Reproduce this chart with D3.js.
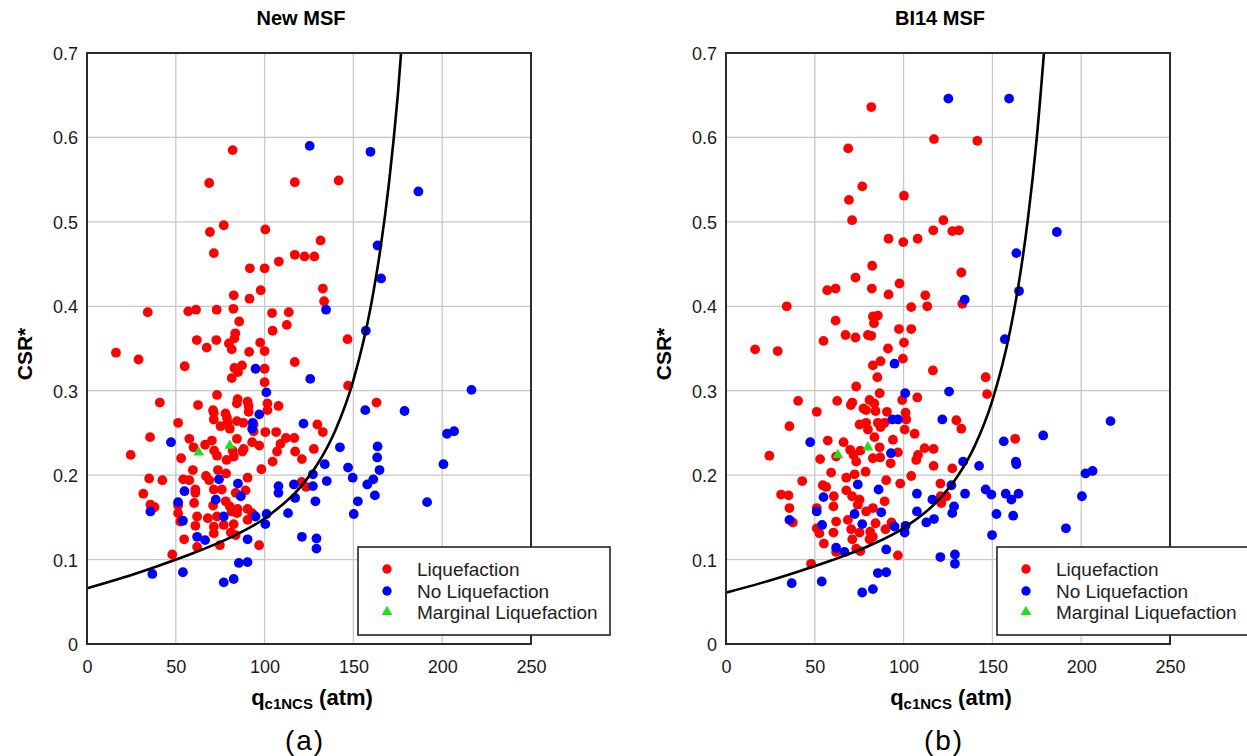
<!DOCTYPE html>
<html>
<head>
<meta charset="utf-8">
<script src="https://cdn.jsdelivr.net/npm/d3@7"></script>
<style>
body { margin: 0; background: #fff; }
svg { display: block; font-family: "Liberation Sans", Arial, sans-serif; }
</style>
</head>
<body>
<div id="chart"></div>
<script>
var xTicks = [0, 50, 100, 150, 200, 250];
var yTicks = [0, 0.1, 0.2, 0.3, 0.4, 0.5, 0.6, 0.7];
var legendLabels = ['Liquefaction', 'No Liquefaction', 'Marginal Liquefaction'];

// curve, [qc1Ncs] -> CSR*
var curveQ = [0, 20, 40, 60, 80, 100, 120, 130, 140, 150, 160, 165, 170, 175, 180];
var newCurve = [0.0659, 0.0784, 0.0925, 0.1078, 0.1254, 0.1487, 0.1855, 0.2138, 0.2539, 0.3126, 0.4022, 0.4650, 0.5454, 0.6497, 0.7867];
var biCurve = [0.0608, 0.0724, 0.0854, 0.0995, 0.1158, 0.1373, 0.1712, 0.1974, 0.2344, 0.2886, 0.3713, 0.4292, 0.5035, 0.5997, 0.7262];

// (a) New MSF
var newLiq = [
    [82,0.585],[68.8,0.546],[117,0.547],[141.7,0.549],[69.2,0.488],[77,0.496],[100.4,0.491],[131.5,0.478],[71.4,0.463],[117,0.461],
    [122.5,0.459],[128,0.459],[108,0.453],[91.7,0.445],[100,0.445],[132.8,0.421],[97.8,0.419],[82.6,0.413],[91.5,0.409],[133.5,0.406],
    [34.2,0.393],[57,0.394],[61.4,0.396],[73,0.396],[82.4,0.397],[104.2,0.392],[113.6,0.393],[85.7,0.382],[112.5,0.378],[83.5,0.368],
    [83,0.362],[104.5,0.371],[146.7,0.361],[61.8,0.360],[72.8,0.360],[79.9,0.356],[97.5,0.357],[67.4,0.351],[81.5,0.349],[100,0.347],
    [91.3,0.346],[16.3,0.345],[29,0.337],[117,0.334],[55,0.329],[87.3,0.330],[83,0.327],[85,0.322],[100,0.326],
    [41,0.286],[62.5,0.283],[73.2,0.295],[84.8,0.290],[84.4,0.285],[90.4,0.287],[91,0.282],[91,0.275],[101.6,0.285],[107.8,0.282],
    [101.6,0.277],[71,0.277],[71.4,0.274],[78,0.273],[78.8,0.268],[79.2,0.262],[75.2,0.258],[84.4,0.264],[88,0.262],[93.8,0.260],
    [80.4,0.255],[93.8,0.252],[100.4,0.251],[106.5,0.251],[129.7,0.260],[132.8,0.251],[163,0.286],[24.6,0.224],[35.5,0.245],[51.3,0.262],
    [57.6,0.243],[70.3,0.241],[66.5,0.236],[84.4,0.243],[88.2,0.231],[93,0.239],[97,0.235],[108.9,0.237],[112,0.244],[116.7,0.244],
    [107,0.228],[117.2,0.228],[127.7,0.231],[121,0.219],[104.5,0.216],[71.6,0.229],[73.2,0.223],[78.6,0.218],[82.6,0.222],[87.5,0.228],
    [82,0.229],[53,0.220],[60,0.233],[73.7,0.206],[59.6,0.206],[98.2,0.207],[78.3,0.202],[35,0.196],[42.4,0.194],[54.2,0.195],
    [57.6,0.194],[67,0.199],[68.8,0.194],[90.4,0.197],[120.8,0.192],[123.4,0.186],[31.7,0.178],[61,0.183],[61,0.179],[71.4,0.183],
    [75.9,0.183],[83.7,0.179],[89.3,0.182],[35.7,0.165],[38,0.162],[51.3,0.164],[60.3,0.167],[71,0.164],[78.1,0.169],[80.4,0.163],
    [84.8,0.160],[90.4,0.160],[81.5,0.157],[51.3,0.155],[62,0.151],[68,0.149],[73.2,0.151],[93,0.155],[84.4,0.155],[52.5,0.145],
    [61,0.140],[71.4,0.139],[77,0.141],[82.6,0.142],[90.4,0.147],[54.7,0.124],[71.4,0.131],[81,0.132],[83.7,0.129],[62,0.115],
    [74.8,0.117],[48,0.106],[96.9,0.117],[71.4,0.266],[81.5,0.315],[100,0.31],[147,0.306]
];
var newNoLiq = [
    [125.4,0.590],[159.6,0.583],[186.6,0.536],[163.6,0.472],[165.6,0.433],[134.6,0.396],[157,0.371],[94.9,0.326],[125.7,0.314],[47.3,0.239],
    [101,0.298],[97,0.272],[93.3,0.262],[93,0.255],[121.9,0.261],[74.3,0.195],[54.9,0.181],[72.5,0.171],[85,0.190],[86.6,0.175],
    [51.3,0.168],[35.7,0.157],[54,0.146],[77,0.151],[94.9,0.151],[101.1,0.154],[100.4,0.142],[62,0.127],[66.5,0.123],[90.4,0.124],
    [85.5,0.096],[90.4,0.097],[77,0.073],[82.6,0.077],[54,0.085],[36.8,0.083],[107.8,0.187],[107.8,0.179],[113.2,0.155],[117.2,0.173],
    [116.5,0.189],[127.2,0.201],[127.2,0.187],[128.6,0.169],[121,0.127],[129.2,0.125],[129.2,0.113],[133.9,0.213],[135,0.193],[142.4,0.233],
    [147,0.209],[149.6,0.197],[152.5,0.169],[150.2,0.154],[156.7,0.277],[157.8,0.189],[161.2,0.195],[162.1,0.176],[163.6,0.234],[163.4,0.221],
    [164.7,0.206],[178.8,0.276],[191.5,0.168],[200.7,0.213],[202.7,0.249],[206.7,0.252],[216.5,0.301]
];
var newMarginal = [[62.9,0.227],[80.4,0.235]];

// (b) BI14 MSF
var biLiq = [
    [81.8,0.636],[117.1,0.598],[141.5,0.596],[68.8,0.587],[76.7,0.542],[100.2,0.531],[69.2,0.526],[71,0.502],[122.4,0.502],[116.7,0.490],
    [127.4,0.489],[131.2,0.490],[91.5,0.480],[99.8,0.476],[107.9,0.480],[82.3,0.448],[132.5,0.440],[72.9,0.434],[57,0.419],[61.7,0.421],
    [82.1,0.421],[97.7,0.427],[91.5,0.414],[112.2,0.413],[34.2,0.400],[104.3,0.399],[113.3,0.400],[133.1,0.403],[82.7,0.388],[85.5,0.389],
    [83.3,0.380],[61.7,0.383],[97.4,0.373],[104.3,0.373],[67.3,0.366],[72.9,0.363],[79.9,0.366],[81.8,0.365],[54.9,0.359],[100.2,0.357],
    [91.2,0.350],[16.4,0.349],[29.1,0.347],
    [99.6,0.338],[87,0.335],[82.7,0.330],[85.2,0.316],[116.5,0.324],[146.2,0.316],[147,0.296],[73.3,0.305],[86.5,0.297],[40.6,0.288],
    [62.6,0.288],[71.1,0.286],[70.3,0.283],[80.8,0.289],[83.5,0.285],[99.2,0.289],[107.7,0.292],[51.1,0.275],[77.4,0.279],[78.9,0.277],
    [84.2,0.276],[90.6,0.275],[101.1,0.274],[101.5,0.266],[35.7,0.258],[75.2,0.260],[78.9,0.262],[85.5,0.262],[87,0.257],[89.3,0.262],
    [100.6,0.254],[106.2,0.249],[129.7,0.265],[132.5,0.255],[79.9,0.254],[83.6,0.245],[57.3,0.241],[66.2,0.239],[94,0.242],[24.4,0.223],
    [69.9,0.230],[71.8,0.224],[75.6,0.229],[86.5,0.233],[86.8,0.221],[82.7,0.220],[53,0.219],[62,0.222],[96.8,0.227],[111.8,0.232],
    [116.9,0.231],[108.1,0.224],[107.1,0.218],[92.7,0.214],[116.9,0.211],[127.4,0.208],[162.8,0.243],[73.3,0.216],[59.2,0.203],[72.4,0.201],
    [78.6,0.204],[104.3,0.199],[42.9,0.193],[54.5,0.188],[67.7,0.197],[90.2,0.194],[98.1,0.190],[120.7,0.190],[31,0.177],[35.2,0.176],
    [60.7,0.175],[71,0.175],[75.2,0.171],[67.7,0.182],[120.9,0.175],[124.1,0.175],[121.2,0.167],[89.3,0.169],[35.7,0.161],[51.1,0.161],
    [60.5,0.163],[74.2,0.165],[78.9,0.157],[82.7,0.161],[37.6,0.144],[62,0.145],[68.6,0.147],[84.2,0.143],[93.2,0.144],[51.1,0.137],
    [52.6,0.131],[60.5,0.132],[70.5,0.136],[75.2,0.132],[81.2,0.133],[89.8,0.136],[71.1,0.124],[80.8,0.124],[82.7,0.127],[55.1,0.119],
    [62,0.109],[73.3,0.113],[75.6,0.110],[96.8,0.105],[47.9,0.095],[56.4,0.186]
];
var biNoLiq = [
    [125.2,0.646],[159.4,0.646],[186.3,0.488],[163.5,0.463],[165,0.418],[134.4,0.408],[157,0.361],[94.9,0.332],[100.9,0.297],[125.6,0.299],
    [93.6,0.266],[96.8,0.266],[121.8,0.266],[47.4,0.239],[92.9,0.226],[156.4,0.240],[178.6,0.247],[216.5,0.264],[133.5,0.216],[142.5,0.211],
    [163.2,0.216],[163.5,0.213],[202.4,0.202],[206.4,0.205],[74.2,0.189],[85.9,0.183],[126.9,0.188],[146.2,0.183],[149.4,0.177],[157.5,0.178],
    [160.7,0.171],[164.7,0.178],[134.6,0.178],[107.5,0.178],[54.9,0.174],[116.2,0.171],[200.4,0.175],[51.1,0.157],[72.4,0.154],[87.4,0.156],
    [107.5,0.157],[128.4,0.163],[127.4,0.155],[152.3,0.154],[161.7,0.152],[35.7,0.147],[54.1,0.141],[76.7,0.142],[94.9,0.139],[101.1,0.140],
    [100.6,0.132],[112.8,0.144],[117.1,0.148],[191.4,0.137],[149.8,0.129],[62,0.114],[66.7,0.109],[90.2,0.112],[120.7,0.103],[128.9,0.106],
    [128.9,0.095],[37,0.072],[53.9,0.074],[85.5,0.084],[90.2,0.085],[76.7,0.061],[82.7,0.065]
];
var biMarginal = [[63,0.224],[79.9,0.233]];

var width = 1247, height = 756;
var colors = { liq: '#ff0000', noliq: '#0000ff', marg: '#22dd22' };

var svg = d3.select('#chart').append('svg')
    .attr('width', width)
    .attr('height', height);

var triangle = d3.symbol().type(d3.symbolTriangle).size(50);

function drawPanel(opts) {
    var x = d3.scaleLinear().domain([0, 250]).range([opts.left, opts.left + 444]);
    var y = d3.scaleLinear().domain([0, 0.7]).range([644, 53]);
    var g = svg.append('g');

    g.append('clipPath').attr('id', opts.id + '-clip')
        .append('rect')
        .attr('x', x(0)).attr('y', y(0.7))
        .attr('width', x(250) - x(0)).attr('height', y(0) - y(0.7));

    // grid
    g.selectAll('.gx').data(xTicks.slice(1, -1)).enter().append('line')
        .attr('x1', x).attr('x2', x)
        .attr('y1', y(0)).attr('y2', y(0.7))
        .attr('stroke', '#c8c8c8').attr('stroke-width', 1.3);
    g.selectAll('.gy').data(yTicks.slice(1, -1)).enter().append('line')
        .attr('x1', x(0)).attr('x2', x(250))
        .attr('y1', y).attr('y2', y)
        .attr('stroke', '#c8c8c8').attr('stroke-width', 1.3);

    // axes
    var xAxis = g.append('g')
        .attr('transform', 'translate(0,' + y(0) + ')')
        .call(d3.axisBottom(x).tickValues(xTicks).tickSize(0).tickPadding(16));
    var yAxis = g.append('g')
        .attr('transform', 'translate(' + x(0) + ',0)')
        .call(d3.axisLeft(y).tickValues(yTicks).tickSize(0).tickPadding(9)
            .tickFormat(function(d) { return d === 0 ? '0' : d3.format('.1f')(d); }));
    [xAxis, yAxis].forEach(function(a) {
        a.select('.domain').remove();
        a.selectAll('text')
            .attr('fill', '#1a1a1a')
            .style('font-size', '18px')
            .style('font-family', '"Liberation Sans", Arial, sans-serif');
    });
    yAxis.selectAll('text').attr('dy', '0.36em');

    // points
    var pts = g.append('g').attr('clip-path', 'url(#' + opts.id + '-clip)');
    var line = d3.line()
        .x(function(d, i) { return x(curveQ[i]); })
        .y(function(d) { return y(d); })
        .curve(d3.curveMonotoneX);

    pts.selectAll('.liq').data(opts.liq).enter().append('circle')
        .attr('cx', function(d) { return x(d[0]); })
        .attr('cy', function(d) { return y(d[1]); })
        .attr('r', 4.9)
        .attr('fill', colors.liq);
    pts.selectAll('.noliq').data(opts.noliq).enter().append('circle')
        .attr('cx', function(d) { return x(d[0]); })
        .attr('cy', function(d) { return y(d[1]); })
        .attr('r', 4.9)
        .attr('fill', colors.noliq);
    pts.selectAll('.marg').data(opts.marg).enter().append('path')
        .attr('d', triangle)
        .attr('transform', function(d) { return 'translate(' + x(d[0]) + ',' + y(d[1]) + ')'; })
        .attr('fill', colors.marg);

    pts.append('path')
        .datum(opts.curve)
        .attr('d', line)
        .attr('fill', 'none')
        .attr('stroke', '#000')
        .attr('stroke-width', 2.6);

    // frame
    g.append('rect')
        .attr('x', x(0)).attr('y', y(0.7))
        .attr('width', x(250) - x(0)).attr('height', y(0) - y(0.7))
        .attr('fill', 'none').attr('stroke', '#2a2a2a').attr('stroke-width', 2);

    // titles
    var cx = (x(0) + x(250)) / 2;
    g.append('text')
        .attr('x', cx - 8).attr('y', 25)
        .attr('text-anchor', 'middle')
        .style('font-size', '20px').style('font-weight', 'bold')
        .text(opts.title);

    g.append('text')
        .attr('transform', 'translate(' + (x(0) - 55) + ',' + 354 + ') rotate(-90)')
        .attr('text-anchor', 'middle')
        .style('font-size', '21px').style('font-weight', 'bold')
        .text('CSR*');

    var xl = g.append('text')
        .attr('x', cx + 3).attr('y', 705)
        .attr('text-anchor', 'middle')
        .style('font-size', '22px').style('font-weight', 'bold');
    xl.append('tspan').text('q');
    xl.append('tspan').attr('dy', 4).style('font-size', '15px').text('c1NCS');
    xl.append('tspan').attr('dy', -4).text(' (atm)');

    g.append('text')
        .attr('x', cx - 4).attr('y', 750)
        .attr('text-anchor', 'middle')
        .style('font-size', '28px')
        .style('letter-spacing', '2px')
        .text(opts.caption);

    // legend
    var lg = g.append('g').attr('transform', 'translate(' + (x(0) + 271) + ',547)');
    lg.append('rect')
        .attr('width', 252).attr('height', 88)
        .attr('fill', '#fff').attr('stroke', '#222').attr('stroke-width', 1.6);
    var rows = lg.selectAll('.row').data(legendLabels).enter().append('g')
        .attr('transform', function(d, i) { return 'translate(0,' + [22, 44, 65][i] + ')'; });
    rows.each(function(d, i) {
        var r = d3.select(this);
        if (i < 2) {
            r.append('circle').attr('cx', 29).attr('r', 4.7)
                .attr('fill', i === 0 ? colors.liq : colors.noliq);
        } else {
            r.append('path').attr('d', triangle)
                .attr('transform', 'translate(29,0)')
                .attr('fill', colors.marg);
        }
        r.append('text')
            .attr('x', 59).attr('dy', '0.35em')
            .style('font-size', '19px')
            .attr('fill', '#222')
            .text(d);
    });
}

drawPanel({ id: 'a', left: 87, title: 'New MSF', caption: '(a)',
    liq: newLiq, noliq: newNoLiq, marg: newMarginal, curve: newCurve });
drawPanel({ id: 'b', left: 726, title: 'BI14 MSF', caption: '(b)',
    liq: biLiq, noliq: biNoLiq, marg: biMarginal, curve: biCurve });
</script>
</body>
</html>
